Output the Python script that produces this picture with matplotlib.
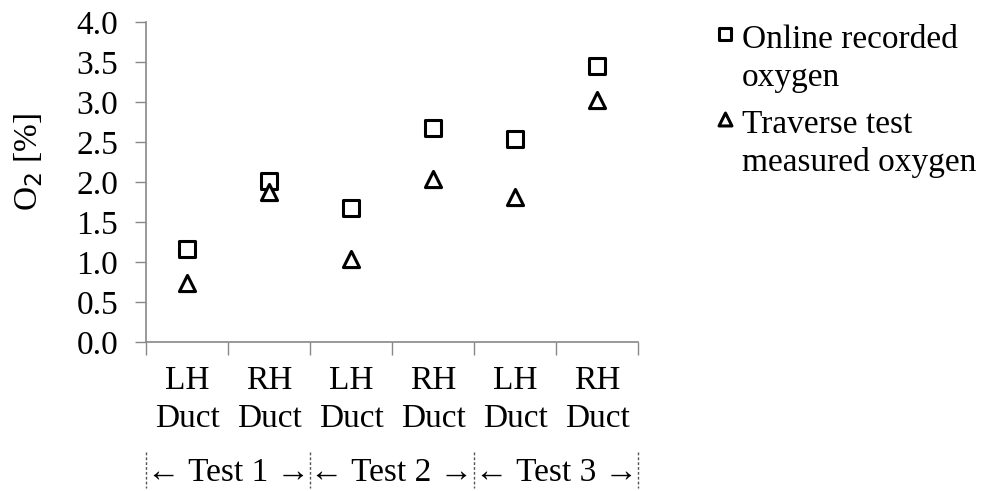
import numpy as np
import matplotlib.pyplot as plt

plt.rcParams['font.family'] = ['Liberation Serif', 'DejaVu Serif']

# categories and values
ducts = ['LH\nDuct', 'RH\nDuct', 'LH\nDuct', 'RH\nDuct', 'LH\nDuct', 'RH\nDuct']
tests = ['Test 1', 'Test 2', 'Test 3']
online_o2 = [1.16, 2.01, 1.67, 2.67, 2.54, 3.45]
traverse_o2 = [0.74, 1.87, 1.04, 2.04, 1.81, 3.03]

fs = 24
fig = plt.figure(figsize=(9.82, 4.91), dpi=100)
ax = fig.add_axes([0.1487, 0.3035, 0.501, 0.6517])

x = np.arange(len(ducts))
ax.scatter(x, online_o2, marker='s', s=125, facecolor='white', edgecolor='black',
           linewidth=2.2, zorder=3, label='Online recorded\noxygen')
ax.scatter(x, traverse_o2, marker='^', s=135, facecolor='white', edgecolor='black',
           linewidth=2.2, zorder=3, label='Traverse test\nmeasured oxygen')

ax.set_xlim(-0.5, len(ducts) - 0.5)
ax.set_ylim(0, 4)
ax.set_yticks(np.arange(0, 4.01, 0.5))
ax.set_yticklabels([f'{v:.1f}' for v in np.arange(0, 4.01, 0.5)], fontsize=fs)
ax.set_ylabel('O$_2$ [%]', fontsize=fs)
ax.yaxis.set_label_coords(-0.205, 0.5625)

# category boundaries as ticks, labels at centres
ax.set_xticks(np.arange(-0.5, len(ducts), 1.0))
ax.set_xticklabels([])
ax.set_xticks(x, minor=True)
ax.set_xticklabels(ducts, minor=True, fontsize=fs, linespacing=1.3)
ax.tick_params(axis='x', which='minor', length=0, pad=17)
ax.tick_params(axis='x', which='major', length=9, color='#888888', width=1)
ax.tick_params(axis='y', length=8, color='#888888', width=1, pad=12)

for s in ['top', 'right']:
    ax.spines[s].set_visible(False)
for s in ['left', 'bottom']:
    ax.spines[s].set_color('#888888')
    ax.spines[s].set_linewidth(1.2)

# group labels below the axis
trans = ax.get_xaxis_transform()
for i, t in enumerate(tests):
    ax.text(2 * i + 0.5, -0.41, '\u2190 ' + t + ' \u2192', transform=trans,
            ha='center', va='center', fontsize=fs, clip_on=False)
for b in np.arange(-0.5, len(ducts), 2.0):
    ax.plot([b, b], [-0.345, -0.455], transform=trans, color='#555555',
            linestyle=(0, (2, 1.5)), linewidth=1, clip_on=False)

leg = ax.legend(loc='upper left', bbox_to_anchor=(1.093, 1.085), frameon=False,
                fontsize=fs, handletextpad=0.15, labelspacing=0.5,
                handlelength=0.7, markerscale=0.8)
for t in leg.get_texts():
    t.set_linespacing(1.3)
# put each legend marker beside the first line of its label
for h in leg.legend_handles:
    h.set_offsets(h.get_offsets() + np.array([0, 20]))

fig.savefig('out.png', dpi=100)
